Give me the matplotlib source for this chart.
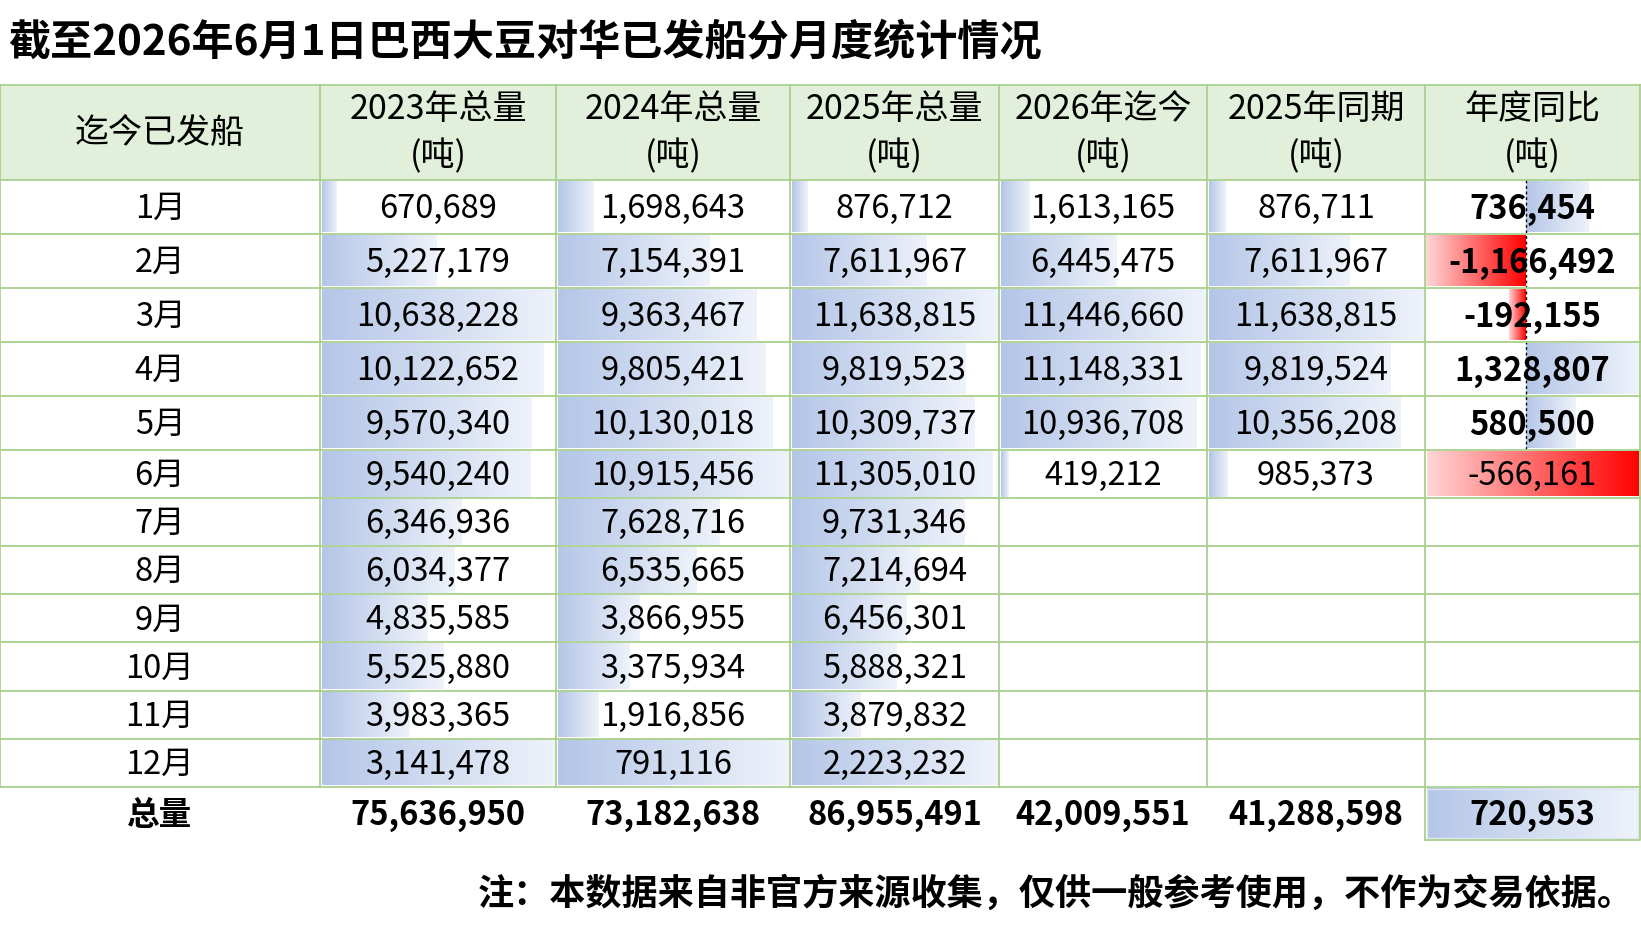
import numpy as np
import matplotlib
matplotlib.use("Agg")
import matplotlib.pyplot as plt
from matplotlib.patches import Rectangle

plt.rcParams['font.family'] = ['Noto Sans CJK SC', 'DejaVu Sans']

# ---------------- data ----------------
title = "截至2026年6月1日巴西大豆对华已发船分月度统计情况"
note = "注：本数据来自非官方来源收集，仅供一般参考使用，不作为交易依据。"
first_header = "迄今已发船"
col_headers = ["2023年总量", "2024年总量", "2025年总量", "2026年迄今", "2025年同期", "年度同比"]
unit = "(吨)"
months = ["1月", "2月", "3月", "4月", "5月", "6月", "7月", "8月", "9月", "10月", "11月", "12月"]
total_label = "总量"

y2023 = [670689, 5227179, 10638228, 10122652, 9570340, 9540240, 6346936, 6034377,
         4835585, 5525880, 3983365, 3141478]
y2024 = [1698643, 7154391, 9363467, 9805421, 10130018, 10915456, 7628716, 6535665,
         3866955, 3375934, 1916856, 791116]
y2025 = [876712, 7611967, 11638815, 9819523, 10309737, 11305010, 9731346, 7214694,
         6456301, 5888321, 3879832, 2223232]
y2026_ytd = [1613165, 6445475, 11446660, 11148331, 10936708, 419212]
y2025_same = [876711, 7611967, 11638815, 9819524, 10356208, 985373]
yoy = [736454, -1166492, -192155, 1328807, 580500, -566161]
totals = [75636950, 73182638, 86955491, 42009551, 41288598, 720953]

# ---------------- layout ----------------
W, H = 1641, 943
col_edges = [0, 320, 556, 790, 999, 1207, 1425, 1640]
header_top, header_bot = 85, 180
row_edges = [180, 234, 288, 342, 396, 450] + [450 + 48.1 * k for k in range(1, 8)]
total_bot = 840

grid_c = "#A9D08E"
head_fill = "#E2EFDA"
blue_l = np.array([0.706, 0.776, 0.906])
blue_r = np.array([0.935, 0.950, 0.982])
red_far = np.array([1.0, 0.84, 0.84])
red_ax = np.array([1.0, 0.0, 0.0])
fs = 23.5
fs_head = 24.5
dy = 2

fig = plt.figure(figsize=(W / 100, H / 100), dpi=100)
ax = fig.add_axes([0, 0, 1, 1])
ax.set_xlim(0, W)
ax.set_ylim(H, 0)
ax.axis("off")


def grad(x0, x1, y0, y1, c0, c1, z=1):
    if x1 - x0 <= 0:
        return
    t = np.linspace(0, 1, 256)[None, :, None]
    img = c0[None, None, :] * (1 - t) + c1[None, None, :] * t
    ax.imshow(img, extent=[x0, x1, y1, y0], aspect="auto",
              interpolation="bilinear", zorder=z)


# header fill
ax.add_patch(Rectangle((col_edges[0], header_top), col_edges[-1] - col_edges[0],
                       header_bot - header_top, facecolor=head_fill, edgecolor="none", zorder=0))

# data bars for the five volume columns (last month row has its own full-cell bar)
cols = [y2023, y2024, y2025, y2026_ytd, y2025_same]
for ci, vals in enumerate(cols):
    xl, xr = col_edges[ci + 1], col_edges[ci + 2]
    main = vals[:11]
    vmax = max(main)
    for ri, v in enumerate(vals):
        y0, y1 = row_edges[ri] + 1.5, row_edges[ri + 1] - 1.5
        if ri == 11:
            L = xr - xl - 3
        else:
            L = (xr - xl - 3) * v / vmax
        grad(xl + 1.5, xl + 1.5 + L, y0, y1, blue_l, blue_r)

# year-on-year column: rows 1-5 share an axis
xl, xr = col_edges[6], col_edges[7]
sub = yoy[:5]
neg_max = -min(sub)
pos_max = max(sub)
axis_x = xl + (xr - xl) * neg_max / (neg_max + pos_max)
for ri, v in enumerate(sub):
    y0, y1 = row_edges[ri] + 1.5, row_edges[ri + 1] - 1.5
    if v >= 0:
        L = (xr - 2 - axis_x) * v / pos_max
        grad(axis_x, axis_x + L, y0, y1, blue_l, blue_r)
    else:
        L = (axis_x - xl - 1) * (-v) / neg_max
        grad(axis_x - L, axis_x, y0, y1, red_far, red_ax)
ax.plot([axis_x, axis_x], [row_edges[0], row_edges[5]], color="black",
        lw=1, ls=(0, (2, 2)), zorder=3)
# row 6 YoY: single full bar
grad(xl + 1.5, xr - 1.5, row_edges[5] + 2, row_edges[6] - 2, red_far, red_ax)
# total YoY cell bar
grad(xl + 2, xr - 2, row_edges[-1] + 2, total_bot - 2, blue_l, blue_r)
ax.add_patch(Rectangle((xl + 2, row_edges[-1] + 2), xr - xl - 4, total_bot - row_edges[-1] - 4,
                       facecolor="none", edgecolor="#dfe6f3", lw=1, zorder=2))

# grid lines
for y in [header_top] + row_edges:
    ax.plot([col_edges[0], col_edges[-1]], [y, y], color=grid_c, lw=1.3, zorder=4)
for x in col_edges:
    ax.plot([x, x], [header_top, row_edges[-1]], color=grid_c, lw=1.3, zorder=4)
ax.plot([xl, xr, xr], [total_bot, total_bot, row_edges[-1]], color=grid_c, lw=1.3, zorder=4)
ax.plot([xl, xl], [row_edges[-1], total_bot], color=grid_c, lw=1.3, zorder=4)

# title
ax.text(8, 42, title, fontsize=30.3, fontweight="bold", ha="left", va="center", zorder=5)

# header texts
ax.text((col_edges[0] + col_edges[1]) / 2, 134, first_header, fontsize=fs_head,
        ha="center", va="center", zorder=5)
for ci, h in enumerate(col_headers):
    cx = (col_edges[ci + 1] + col_edges[ci + 2]) / 2
    ax.text(cx, 110, h, fontsize=fs_head, ha="center", va="center", zorder=5)
    ax.text(cx, 157, unit, fontsize=fs_head, ha="center", va="center", zorder=5)

# body
cx0 = (col_edges[0] + col_edges[1]) / 2
for ri, m in enumerate(months):
    cy = (row_edges[ri] + row_edges[ri + 1]) / 2 + dy
    ax.text(cx0, cy, m, fontsize=fs, ha="center", va="center", zorder=5)

all_cols = cols + [yoy]
for ci, vals in enumerate(all_cols):
    cx = (col_edges[ci + 1] + col_edges[ci + 2]) / 2
    for ri, v in enumerate(vals):
        cy = (row_edges[ri] + row_edges[ri + 1]) / 2 + dy
        bold = (ci == 5 and ri < 5)
        ax.text(cx, cy, f"{v:,}", fontsize=fs, ha="center", va="center",
                fontweight="bold" if bold else "normal", zorder=5)

# totals row
ty = (row_edges[-1] + total_bot) / 2 + dy
ax.text(cx0, ty, total_label, fontsize=fs, fontweight="bold", ha="center", va="center", zorder=5)
for ci, v in enumerate(totals):
    cx = (col_edges[ci + 1] + col_edges[ci + 2]) / 2
    ax.text(cx, ty, f"{v:,}", fontsize=fs, fontweight="bold", ha="center", va="center", zorder=5)

# note
ax.text(1634, 894, note, fontsize=26, fontweight="bold", ha="right", va="center", zorder=5)

fig.savefig("out.png", dpi=100)
